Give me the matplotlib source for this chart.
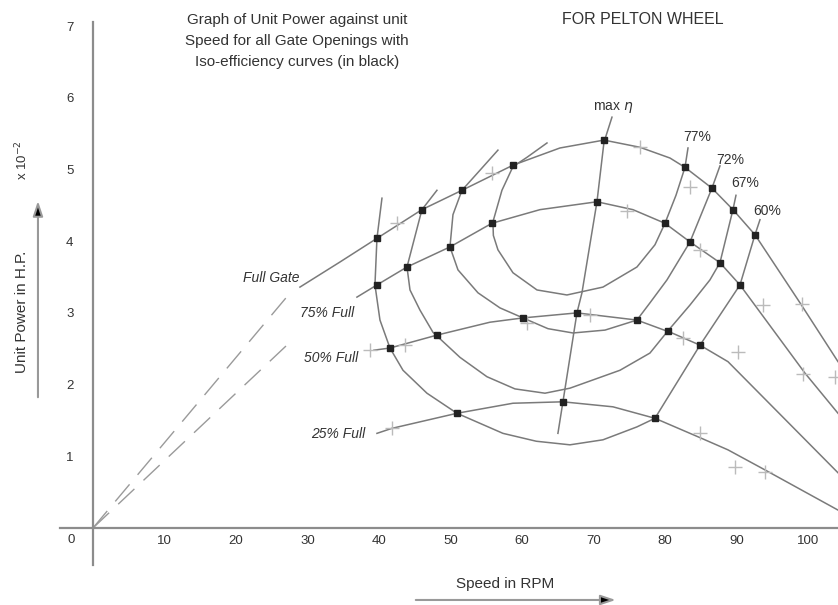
import matplotlib.pyplot as plt

plt.rcParams['font.family'] = ['Liberation Sans', 'DejaVu Sans']

# gate opening curves: speed (RPM) vs unit power (x 10^-2 HP)
full_dash_x = [0, 27.0]
full_dash_y = [0, 3.21]
full_x = [28.95, 34.55, 39.72, 46.01, 51.61, 58.74, 65.31, 71.47, 76.50, 80.7, 82.80, 86.57, 89.51, 92.59, 99.02, 104.2]
full_y = [3.36, 3.71, 4.04, 4.44, 4.71, 5.06, 5.30, 5.41, 5.31, 5.16, 5.03, 4.74, 4.44, 4.09, 3.12, 2.32]

g75_dash_x = [0, 27.55]
g75_dash_y = [0, 2.59]
g75_x = [36.92, 39.72, 43.92, 49.93, 55.80, 62.52, 70.49, 75.52, 80.0, 83.50, 87.69, 90.49, 99.58, 104.2]
g75_y = [3.22, 3.39, 3.64, 3.92, 4.25, 4.44, 4.55, 4.44, 4.25, 3.99, 3.70, 3.39, 2.16, 1.60]

g50_x = [39.3, 41.54, 48.11, 55.52, 60.14, 67.69, 76.08, 80.98, 84.90, 88.81, 104.2]
g50_y = [2.48, 2.51, 2.69, 2.87, 2.93, 3.00, 2.90, 2.72, 2.55, 2.32, 0.77]

g25_x = [39.72, 41.82, 50.91, 58.74, 65.73, 72.73, 78.60, 84.90, 88.81, 93.99, 104.2]
g25_y = [1.32, 1.39, 1.60, 1.74, 1.76, 1.69, 1.53, 1.26, 1.09, 0.81, 0.25]

# iso-efficiency curves
eff60_x = [40.42, 39.72, 39.44, 40.14, 41.54, 43.36, 46.71, 50.91, 57.34, 62.0, 66.71, 71.33, 76.08, 78.60, 84.90, 90.49, 92.59, 93.29]
eff60_y = [4.60, 4.04, 3.39, 2.90, 2.51, 2.20, 1.88, 1.60, 1.32, 1.21, 1.16, 1.23, 1.41, 1.53, 2.55, 3.39, 4.09, 4.30]

eff67_x = [48.11, 46.01, 43.92, 44.34, 45.73, 47.55, 51.33, 55.10, 59.02, 63.22, 66.71, 73.71, 77.90, 80.42, 83.50, 86.29, 87.69, 89.51, 89.93]
eff67_y = [4.71, 4.44, 3.64, 3.32, 3.04, 2.73, 2.38, 2.11, 1.94, 1.88, 1.95, 2.20, 2.44, 2.75, 3.11, 3.46, 3.70, 4.44, 4.64]

eff72_x = [56.64, 54.13, 51.61, 50.35, 49.93, 51.05, 53.85, 56.92, 60.14, 63.64, 67.13, 71.61, 76.08, 77.90, 80.28, 83.50, 86.57, 87.69]
eff72_y = [5.27, 4.99, 4.71, 4.37, 3.92, 3.60, 3.28, 3.07, 2.93, 2.78, 2.72, 2.76, 2.90, 3.14, 3.46, 3.99, 4.74, 5.05]

eff77_x = [63.50, 60.70, 58.74, 57.20, 55.94, 56.0, 56.64, 58.74, 62.10, 66.29, 71.33, 76.08, 78.60, 80.0, 81.54, 82.80, 83.22]
eff77_y = [5.37, 5.17, 5.04, 4.71, 4.27, 4.08, 3.88, 3.56, 3.32, 3.25, 3.36, 3.64, 3.95, 4.25, 4.64, 5.03, 5.30]

maxeta_x = [72.59, 71.47, 70.49, 68.39, 67.69, 65.73, 65.03]
maxeta_y = [5.73, 5.38, 4.55, 3.28, 3.00, 1.76, 1.32]

# intersections
dot_x = [39.72, 46.01, 51.61, 58.74, 71.47, 82.80, 86.57, 89.51, 92.59,
         39.72, 43.92, 49.93, 55.80, 70.49, 80.0, 83.50, 87.69, 90.49,
         41.54, 48.11, 60.14, 67.69, 76.08, 80.42, 84.90,
         50.91, 65.73, 78.60]
dot_y = [4.04, 4.44, 4.71, 5.06, 5.41, 5.03, 4.74, 4.44, 4.09,
         3.39, 3.64, 3.92, 4.25, 4.55, 4.25, 3.99, 3.70, 3.39,
         2.51, 2.69, 2.93, 3.00, 2.90, 2.75, 2.55,
         1.60, 1.76, 1.53]

# measured points
pt_x = [42.52, 55.80, 76.50, 83.50, 74.69, 84.90, 43.64, 38.74, 41.82, 60.70, 69.51, 82.52,
        90.21, 93.71, 99.16, 99.30, 103.78, 84.90, 89.79, 93.99]
pt_y = [4.25, 4.95, 5.31, 4.76, 4.42, 3.88, 2.55, 2.48, 1.39, 2.86, 2.97, 2.65,
        2.45, 3.11, 3.12, 2.15, 2.11, 1.32, 0.85, 0.78]

gate_labels = ['Full Gate', '75% Full', '50% Full', '25% Full']
gate_lab_x = [24.9, 32.7, 33.3, 34.3]
gate_lab_y = [3.49, 3.00, 2.37, 1.31]

eff_labels = ['77%', '72%', '67%', '60%']
eff_lab_x = [84.5, 89.1, 91.2, 94.3]
eff_lab_y = [5.45, 5.13, 4.81, 4.42]

xticks = [10, 20, 30, 40, 50, 60, 70, 80, 90, 100]
yticks = [1, 2, 3, 4, 5, 6, 7]

fig = plt.figure(figsize=(8.38, 6.05), dpi=100)
ax = fig.add_axes([0, 0, 1, 1])
ax.set_xlim(-13.0, 104.2)
ax.set_ylim(-1.074, 7.364)

axis_col = '#8c8c8c'
txt_col = '#333333'
for s in ['top', 'right']:
    ax.spines[s].set_visible(False)
ax.spines['left'].set_position(('data', 0))
ax.spines['bottom'].set_position(('data', 0))
ax.spines['left'].set_bounds(-0.52, 7.06)
ax.spines['bottom'].set_bounds(-4.6, 104.2)
for s in ['left', 'bottom']:
    ax.spines[s].set_color(axis_col)
    ax.spines[s].set_linewidth(1.6)
ax.set_xticks(xticks)
ax.set_yticks(yticks)
ax.tick_params(length=0, labelsize=9.5, labelcolor=txt_col)
ax.tick_params(axis='y', pad=14)
ax.tick_params(axis='x', pad=5)
ax.text(-3.1, -0.17, '0', ha='center', va='center', fontsize=9.5, color=txt_col)

line_col = '#7a7a7a'
lw = 1.1
ax.plot(full_dash_x, full_dash_y, color='#9a9a9a', lw=1.0, dashes=(16, 9))
ax.plot(g75_dash_x, g75_dash_y, color='#9a9a9a', lw=1.0, dashes=(16, 9))
for xs, ys in [(full_x, full_y), (g75_x, g75_y), (g50_x, g50_y), (g25_x, g25_y),
               (eff60_x, eff60_y), (eff67_x, eff67_y), (eff72_x, eff72_y),
               (eff77_x, eff77_y), (maxeta_x, maxeta_y)]:
    ax.plot(xs, ys, color=line_col, lw=lw)

ax.plot(pt_x, pt_y, ls='none', marker='+', ms=10, mew=1.0, color='#bbbbbb')
ax.plot(dot_x, dot_y, ls='none', marker='s', ms=4, color='#222222')

for t, x, y in zip(gate_labels, gate_lab_x, gate_lab_y):
    ax.text(x, y, t, ha='center', va='center', fontsize=10, style='italic', color=txt_col)
for t, x, y in zip(eff_labels, eff_lab_x, eff_lab_y):
    ax.text(x, y, t, ha='center', va='center', fontsize=10, color=txt_col)
ax.text(72.7, 5.86, r'max $\eta$', ha='center', va='center', fontsize=10, color=txt_col)

title_lines = ['Graph of Unit Power against unit',
               'Speed for all Gate Openings with',
               'Iso-efficiency curves (in black)']
for i, t in enumerate(title_lines):
    fig.text(297 / 838, 1 - (20 + 21 * i) / 605, t, ha='center', va='center',
             fontsize=11, color=txt_col)
fig.text(643 / 838, 1 - 20 / 605, 'FOR PELTON WHEEL', ha='center', va='center',
         fontsize=11.5, color=txt_col)

# axis captions with arrows
ax.text(-9.93, 3.01, 'Unit Power in H.P.', rotation=90, ha='center', va='center',
        fontsize=11, color=txt_col)
ax.text(-9.93, 5.13, r'x 10$^{-2}$', rotation=90, ha='center', va='center',
        fontsize=9.5, color=txt_col)
ax.annotate('', xy=(-7.69, 4.6), xytext=(-7.69, 1.785),
            arrowprops=dict(arrowstyle='-|>,head_length=0.9,head_width=0.3',
                            fc='black', ec='#999999', lw=1.5))
ax.text(57.6, -0.78, 'Speed in RPM', ha='center', va='center', fontsize=11, color=txt_col)
ax.annotate('', xy=(73.5, -1.004), xytext=(44.76, -1.004),
            arrowprops=dict(arrowstyle='-|>,head_length=0.9,head_width=0.3',
                            fc='black', ec='#999999', lw=1.5))

fig.savefig('out.png', dpi=100)
